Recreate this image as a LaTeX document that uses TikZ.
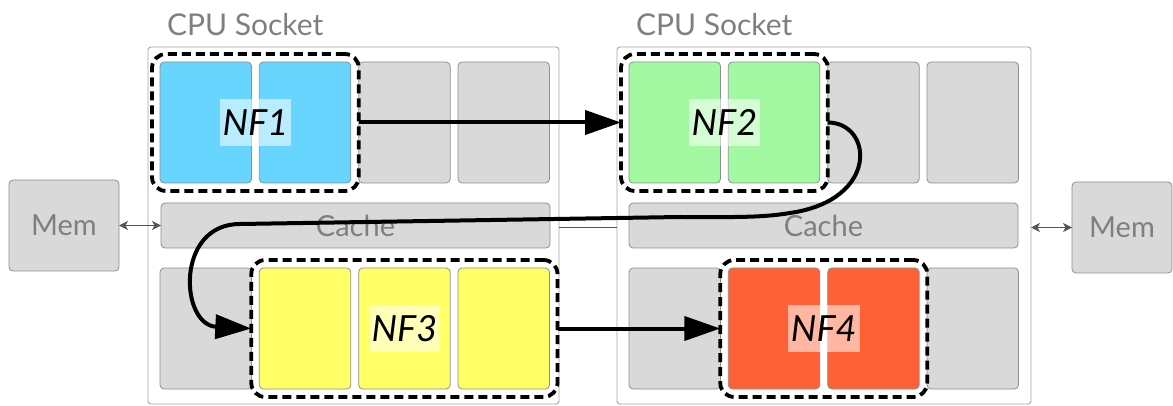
\documentclass[tikz,border=0pt]{standalone}
\usepackage{fontspec}
\setmainfont{Lato}
\usetikzlibrary{arrows.meta,fit,calc}

\definecolor{framegray}{HTML}{A6A6A6}
\definecolor{edgegray}{HTML}{8F8F8F}
\definecolor{coregray}{HTML}{D9D9D9}
\definecolor{textgray}{HTML}{7F7F7F}
\definecolor{linkgray}{HTML}{555555}
\definecolor{nfblue}{HTML}{68D5FF}
\definecolor{nfgreen}{HTML}{A2F9A2}
\definecolor{nfyellow}{HTML}{FFFF66}
\definecolor{nforange}{HTML}{FF6136}

\begin{document}
\begin{tikzpicture}[
  x=1pt, y=-1pt,
  every node/.style={outer sep=0pt},
  socketbox/.style={draw=framegray, line width=0.9pt, fill=white, rounded corners=3pt,
    anchor=north west, minimum width=411pt, minimum height=357pt},
  core/.style={draw=edgegray, line width=0.8pt, rounded corners=4pt, fill=#1,
    anchor=north west, minimum width=91.5pt, minimum height=121pt, inner sep=0pt},
  core/.default=coregray,
  cachebox/.style={draw=edgegray, line width=0.8pt, rounded corners=4pt, fill=coregray,
    anchor=north west, minimum width=389pt, minimum height=45pt, inner sep=0pt,
    text=textgray, font=\fontsize{29}{29}\selectfont},
  membox/.style={draw=edgegray, line width=0.8pt, rounded corners=4pt, fill=coregray,
    minimum height=91pt, inner sep=0pt, text=textgray, font=\fontsize{29}{29}\selectfont},
  title/.style={anchor=base west, text=textgray, font=\fontsize{30}{30}\selectfont, inner sep=0pt},
  nfgroup/.style={draw=black, line width=3.8pt, dash pattern=on 9pt off 5pt,
    rounded corners=14pt, inner sep=8pt},
  nflabel/.style={fill=white, fill opacity=0.55, text opacity=1, text=black,
    font=\itshape\fontsize{36}{36}\selectfont, minimum height=47pt, inner xsep=3pt},
  flow/.style={line width=4pt, -{Triangle[length=36pt,width=24pt]}},
  memlink/.style={draw=linkgray, line width=1.1pt,
    {Stealth[length=9pt,width=9pt,inset=2.5pt]}-{Stealth[length=9pt,width=9pt,inset=2.5pt]}},
  qpilink/.style={draw=linkgray, line width=0.9pt}
]
\useasboundingbox (0,0) rectangle (1173,406);

% sockets
\node[socketbox] (socketA) at (148,47) {};
\node[socketbox, minimum width=414pt] (socketB) at (617,47) {};
\node[title] (titleA) at (167,36) {CPU Socket};
\node[title] (titleB) at (636,36) {CPU Socket};

% socket A: top row of cores
\node[core=nfblue] (a1) at (160,62) {};
\node[core=nfblue] (a2) at (259.3,62) {};
\node[core] (a3) at (358.7,62) {};
\node[core] (a4) at (458,62) {};
% socket A: cache
\node[cachebox] (cacheA) at (161,203) {Cache};
% socket A: bottom row of cores
\node[core] (a5) at (160,268) {};
\node[core=nfyellow] (a6) at (259.3,268) {};
\node[core=nfyellow] (a7) at (358.7,268) {};
\node[core=nfyellow] (a8) at (458,268) {};

% socket B: top row of cores
\node[core=nfgreen] (b1) at (629,62) {};
\node[core=nfgreen] (b2) at (728.3,62) {};
\node[core] (b3) at (827.7,62) {};
\node[core] (b4) at (927,62) {};
% socket B: cache
\node[cachebox] (cacheB) at (629,203) {Cache};
% socket B: bottom row of cores
\node[core] (b5) at (629,268) {};
\node[core=nforange] (b6) at (728.3,268) {};
\node[core=nforange] (b7) at (827.7,268) {};
\node[core] (b8) at (927,268) {};

% memory banks
\node[membox, minimum width=110pt] (memA) at (64,225.5) {Mem};
\node[membox, minimum width=100pt] (memB) at (1122,227.5) {Mem};

% memory and inter-socket links
\draw[memlink] (memA.east) -- (cacheA.west);
\draw[memlink] (socketB.east |- memB.west) -- (memB.west);
\draw[qpilink] ($(socketA.east)+(0,1.5)$) -- ($(socketB.west)+(0,1.5)$);

% network function groups
\node[nfgroup, fit=(a1)(a2)] (nf1) {};
\node[nfgroup, fit=(b1)(b2)] (nf2) {};
\node[nfgroup, fit=(a6)(a8)] (nf3) {};
\node[nfgroup, fit=(b6)(b7)] (nf4) {};

\node[nflabel] (l1) at (nf1.center) {NF1};
\node[nflabel] (l2) at (nf2.center) {NF2};
\node[nflabel] (l3) at (nf3.center) {NF3};
\node[nflabel] (l4) at (nf4.center) {NF4};

% packet path through the chain
\draw[flow] (nf1.east) -- (nf2.west);
\draw[flow] (nf2.east) .. controls +(45,0) and (880,200) .. (790,213)
  .. controls (760,218) and (730,217) .. (680,217)
  -- (240,224)
  .. controls (175,224) and (180,325) .. (nf3.west);
\draw[flow] (nf3.east) -- (nf4.west);
\end{tikzpicture}
\end{document}
